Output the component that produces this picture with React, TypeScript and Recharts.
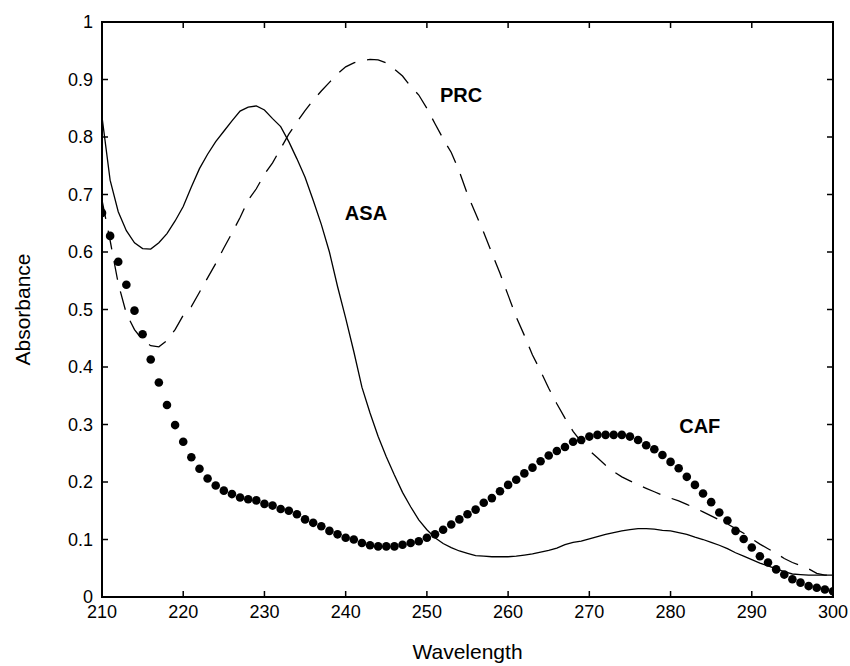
import {
  LineChart,
  Line,
  XAxis,
  YAxis,
  ReferenceDot,
  ReferenceArea,
} from "recharts";

const wavelengths = Array.from({ length: 91 }, (_, i) => 210 + i);

const asa = [
  0.835, 0.725, 0.67, 0.637, 0.616, 0.606, 0.605, 0.616, 0.632, 0.654,
  0.679, 0.713, 0.745, 0.77, 0.792, 0.81, 0.828, 0.845, 0.852, 0.854,
  0.847, 0.832, 0.818, 0.792, 0.762, 0.73, 0.69, 0.648, 0.6, 0.54,
  0.485, 0.427, 0.365, 0.32, 0.279, 0.244, 0.212, 0.182, 0.157, 0.134,
  0.117, 0.103, 0.093, 0.086, 0.08, 0.076, 0.072, 0.071, 0.07, 0.07,
  0.07, 0.071, 0.073, 0.075, 0.078, 0.081, 0.085, 0.091, 0.095, 0.097,
  0.101, 0.105, 0.109, 0.112, 0.115, 0.117, 0.119, 0.119, 0.118, 0.116,
  0.115, 0.112, 0.109, 0.104, 0.1, 0.095, 0.09, 0.084, 0.077, 0.071,
  0.065, 0.059, 0.054, 0.049, 0.044, 0.04, 0.039, 0.038, 0.038, 0.038,
  0.038,
];

const prc = [
  0.69, 0.62, 0.545, 0.493, 0.465, 0.447, 0.437, 0.435, 0.446, 0.465,
  0.49, 0.505, 0.53, 0.555, 0.58, 0.607, 0.633, 0.66, 0.69, 0.71,
  0.735, 0.755, 0.78, 0.805, 0.826, 0.846, 0.864, 0.88, 0.895, 0.91,
  0.922, 0.929, 0.933, 0.935, 0.934, 0.929, 0.918, 0.906, 0.888, 0.873,
  0.85, 0.823, 0.797, 0.773, 0.74, 0.7, 0.667, 0.634, 0.598, 0.563,
  0.525, 0.487, 0.455, 0.421, 0.393, 0.363, 0.336, 0.311, 0.288, 0.27,
  0.255, 0.242, 0.229, 0.218, 0.209, 0.202, 0.195, 0.189, 0.183, 0.177,
  0.172, 0.167, 0.161, 0.155, 0.148, 0.141, 0.134, 0.127, 0.119, 0.111,
  0.101, 0.092, 0.084, 0.076, 0.067, 0.06, 0.055, 0.049, 0.041, 0.038,
  0.038,
];

const caf = [
  0.668, 0.628, 0.583, 0.543, 0.498, 0.457, 0.413, 0.373, 0.334, 0.299,
  0.27, 0.243, 0.223, 0.206, 0.194, 0.185, 0.179, 0.173, 0.17, 0.168,
  0.162, 0.159, 0.153, 0.15, 0.144, 0.135, 0.129, 0.123, 0.115, 0.109,
  0.103, 0.1, 0.094, 0.09, 0.088, 0.088, 0.088, 0.091, 0.094, 0.097,
  0.103, 0.109, 0.117, 0.126, 0.135, 0.144, 0.152, 0.164, 0.172, 0.184,
  0.195, 0.204, 0.215, 0.225, 0.236, 0.246, 0.254, 0.261, 0.27, 0.273,
  0.279, 0.282, 0.282, 0.282, 0.282, 0.279, 0.273, 0.264, 0.257, 0.247,
  0.235, 0.224, 0.209, 0.195, 0.18, 0.165, 0.147, 0.133, 0.115, 0.101,
  0.086, 0.071, 0.06, 0.048, 0.039, 0.031, 0.025, 0.019, 0.016, 0.013,
  0.01,
];

const xTicks = [210, 220, 230, 240, 250, 260, 270, 280, 290, 300];
const yTicks = [0, 0.1, 0.2, 0.3, 0.4, 0.5, 0.6, 0.7, 0.8, 0.9, 1];

const annotations = [
  { name: "PRC", x: 254.2, y: 0.873 },
  { name: "ASA", x: 242.5, y: 0.668 },
  { name: "CAF", x: 283.6, y: 0.297 },
];

const data = wavelengths.map((w, i) => ({
  wl: w,
  asa: asa[i],
  prc: prc[i],
  caf: caf[i],
}));

const W = 850;
const H = 666;
const margin = { top: 22, right: 17, bottom: 0, left: 0 };
const plotTop = margin.top;
const plotRight = W - margin.right;
const font = "'Liberation Sans', Arial, sans-serif";
const TICK = 6;

// bottom axis tick: inward mark at bottom and top of the frame, label below
const XTick = ({ x, y, payload }: any) => (
  <g>
    <line x1={x} x2={x} y1={y} y2={y - TICK} stroke="#000" strokeWidth={1.5} />
    <line x1={x} x2={x} y1={plotTop} y2={plotTop + TICK} stroke="#000" strokeWidth={1.5} />
    <text
      x={x}
      y={y + 8}
      dy="0.71em"
      textAnchor="middle"
      fontSize={18}
      fontFamily={font}
      fill="#000"
    >
      {payload.value}
    </text>
  </g>
);

// left axis tick: inward mark at left and right of the frame, label left
const YTick = ({ x, y, payload }: any) => (
  <g>
    <line x1={x} x2={x + TICK} y1={y} y2={y} stroke="#000" strokeWidth={1.5} />
    <line x1={plotRight} x2={plotRight - TICK} y1={y} y2={y} stroke="#000" strokeWidth={1.5} />
    <text
      x={x - 9}
      y={y}
      dy="0.36em"
      textAnchor="end"
      fontSize={18}
      fontFamily={font}
      fill="#000"
    >
      {payload.value}
    </text>
  </g>
);

export default function App() {
  return (
    <div style={{ position: "absolute", left: 0, top: 0, width: W, height: H }}>
      <LineChart
        width={W}
        height={H}
        data={data}
        margin={margin}
        style={{ overflow: "visible" }}
      >
        <XAxis
          dataKey="wl"
          type="number"
          domain={[210, 300]}
          ticks={xTicks}
          allowDataOverflow
          height={69}
          tickSize={0}
          tickMargin={0}
          tickLine={false}
          axisLine={{ stroke: "#000", strokeWidth: 2 }}
          tick={<XTick />}
          label={{
            content: ({ viewBox }: any) => (
              <text
                x={viewBox.x + viewBox.width / 2}
                y={659}
                textAnchor="middle"
                fontSize={21}
                fontFamily={font}
                fill="#000"
              >
                Wavelength
              </text>
            ),
          }}
        />
        <YAxis
          type="number"
          domain={[0, 1]}
          ticks={yTicks}
          allowDataOverflow
          width={102}
          tickSize={0}
          tickMargin={0}
          tickLine={false}
          axisLine={{ stroke: "#000", strokeWidth: 2 }}
          tick={<YTick />}
          label={{
            content: ({ viewBox }: any) => {
              const cy = viewBox.y + viewBox.height / 2;
              return (
                <text
                  x={22}
                  y={cy}
                  transform={`rotate(-90 22 ${cy})`}
                  textAnchor="middle"
                  dominantBaseline="central"
                  fontSize={21}
                  fontFamily={font}
                  fill="#000"
                >
                  Absorbance
                </text>
              );
            },
          }}
        />
        {/* frame round the plot */}
        <ReferenceArea
          x1={210}
          x2={300}
          y1={0}
          y2={1}
          ifOverflow="visible"
          fill="none"
          fillOpacity={0}
          stroke="#000"
          strokeWidth={2}
          strokeOpacity={1}
        />
        <Line
          dataKey="asa"
          type="linear"
          stroke="#000"
          strokeWidth={1.3}
          dot={false}
          isAnimationActive={false}
        />
        <Line
          dataKey="prc"
          type="linear"
          stroke="#000"
          strokeWidth={1.3}
          strokeDasharray="19 12"
          dot={false}
          isAnimationActive={false}
        />
        <Line
          dataKey="caf"
          type="linear"
          stroke="none"
          dot={{ r: 4.3, fill: "#000", stroke: "none" }}
          isAnimationActive={false}
        />
        {annotations.map((a) => (
          <ReferenceDot
            key={a.name}
            x={a.x}
            y={a.y}
            r={1}
            fill="none"
            stroke="none"
            label={{
              value: a.name,
              position: "center",
              fontSize: 20,
              fontWeight: "bold",
              fontFamily: font,
              fill: "#000",
            }}
          />
        ))}
      </LineChart>
    </div>
  );
}
